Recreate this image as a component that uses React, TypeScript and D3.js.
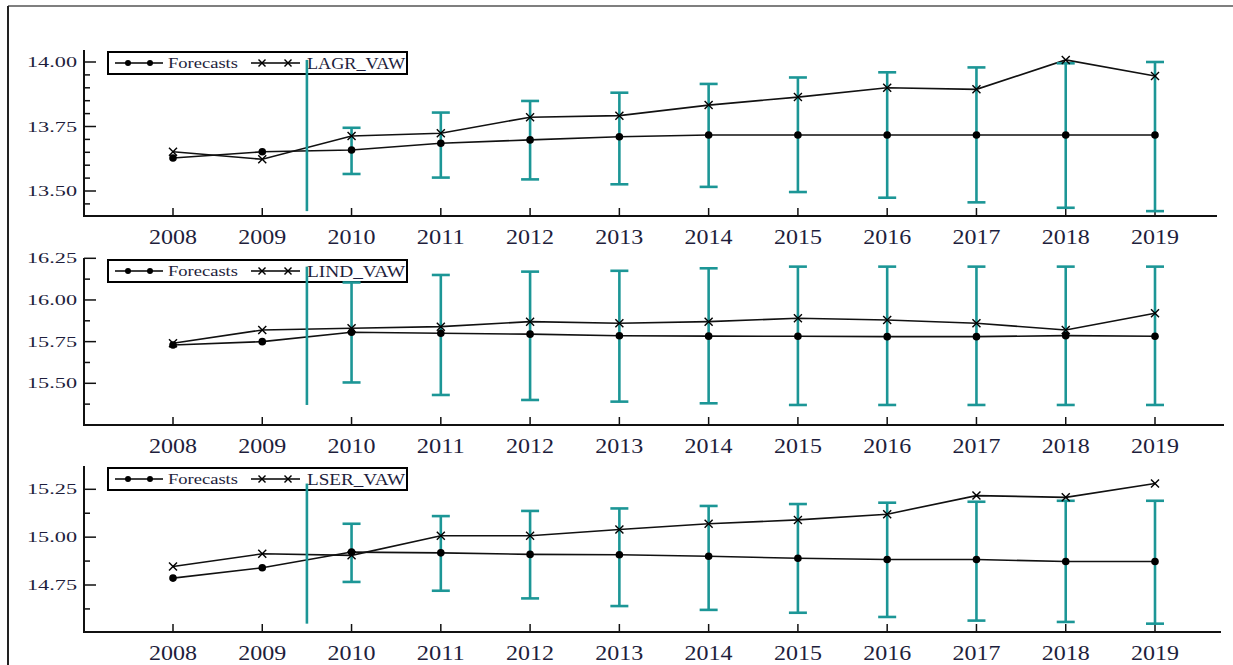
import { line, scaleLinear } from "d3";

const years = [2008, 2009, 2010, 2011, 2012, 2013, 2014, 2015, 2016, 2017, 2018, 2019];
const barYears = [2010, 2011, 2012, 2013, 2014, 2015, 2016, 2017, 2018, 2019];

// LAGR_VAW panel
const agrForecast = [13.628, 13.652, 13.659, 13.685, 13.698, 13.71, 13.717, 13.717, 13.717, 13.717, 13.717, 13.717];
const agrActual = [13.652, 13.623, 13.713, 13.724, 13.786, 13.792, 13.833, 13.864, 13.9, 13.894, 14.008, 13.946];
const agrUpper = [13.745, 13.804, 13.849, 13.881, 13.915, 13.94, 13.96, 13.979, 13.995, 14.0];
const agrLower = [13.566, 13.552, 13.545, 13.526, 13.516, 13.496, 13.474, 13.456, 13.435, 13.422];
const agrTicks = [13.5, 13.75, 14.0];

// LIND_VAW panel
const indForecast = [15.73, 15.75, 15.806, 15.8, 15.795, 15.785, 15.783, 15.782, 15.78, 15.78, 15.786, 15.782];
const indActual = [15.74, 15.82, 15.83, 15.84, 15.87, 15.86, 15.87, 15.89, 15.88, 15.86, 15.82, 15.92];
const indUpper = [16.105, 16.15, 16.17, 16.175, 16.19, 16.2, 16.2, 16.2, 16.2, 16.2];
const indLower = [15.505, 15.43, 15.4, 15.39, 15.38, 15.37, 15.37, 15.37, 15.37, 15.37];
const indTicks = [15.5, 15.75, 16.0, 16.25];

// LSER_VAW panel
const serForecast = [14.786, 14.84, 14.922, 14.918, 14.91, 14.908, 14.9, 14.89, 14.883, 14.883, 14.873, 14.873];
const serActual = [14.847, 14.913, 14.905, 15.007, 15.007, 15.04, 15.07, 15.09, 15.12, 15.217, 15.208, 15.28];
const serUpper = [15.07, 15.11, 15.137, 15.15, 15.163, 15.173, 15.18, 15.185, 15.19, 15.19];
const serLower = [14.766, 14.72, 14.68, 14.64, 14.62, 14.605, 14.583, 14.564, 14.557, 14.548];
const serTicks = [14.75, 15.0, 15.25];

const TEAL = "#1c9696";
const TEXT = "#1e1e3c";
const FONT = "'Liberation Serif', 'Times New Roman', serif";

const x = scaleLinear().domain([2008, 2019]).range([173, 1155]);
const AXIS_LEFT = 84;

type Panel = {
  name: string;
  forecast: number[];
  actual: number[];
  upper: number[];
  lower: number[];
  ticks: number[];
  minorStep: number;
  // two labelled ticks and where they sit, plus axis extent
  d0: number; r0: number; d1: number; r1: number;
  top: number; bottom: number; right: number;
};

const panels: Panel[] = [
  { name: "LAGR_VAW", forecast: agrForecast, actual: agrActual, upper: agrUpper, lower: agrLower,
    ticks: agrTicks, minorStep: 0.05, d0: 13.5, r0: 191, d1: 14.0, r1: 62, top: 50, bottom: 216, right: 1217 },
  { name: "LIND_VAW", forecast: indForecast, actual: indActual, upper: indUpper, lower: indLower,
    ticks: indTicks, minorStep: 0.125, d0: 15.5, r0: 383.3, d1: 16.25, r1: 258.3, top: 258, bottom: 425, right: 1224 },
  { name: "LSER_VAW", forecast: serForecast, actual: serActual, upper: serUpper, lower: serLower,
    ticks: serTicks, minorStep: 0.125, d0: 14.75, r0: 585, d1: 15.25, r1: 489.3, top: 466, bottom: 632, right: 1221 },
];

function Cross({ cx, cy, s = 4 }: { cx: number; cy: number; s?: number }) {
  return (
    <g stroke="#000" strokeWidth={1.4}>
      <line x1={cx - s} y1={cy - s} x2={cx + s} y2={cy + s} />
      <line x1={cx - s} y1={cy + s} x2={cx + s} y2={cy - s} />
    </g>
  );
}

function PanelChart({ p }: { p: Panel }) {
  const y = scaleLinear().domain([p.d0, p.d1]).range([p.r0, p.r1]);
  const lo = y.invert(p.bottom);
  const hi = y.invert(p.top);
  const minors: number[] = [];
  const start = Math.ceil((lo + 1e-6) / p.minorStep) * p.minorStep;
  for (let v = start; v <= hi + 1e-6; v += p.minorStep) {
    if (!p.ticks.some((t) => Math.abs(t - v) < 1e-6)) minors.push(v);
  }
  const path = line<number>()
    .x((_, i) => x(years[i]))
    .y((d) => y(d));
  const sepTop = Math.max(...p.upper, ...p.actual);
  const sepBottom = Math.min(...p.lower);
  const sepX = x(2009.5);
  const lx = 108;
  const ly = p.top + 2;

  return (
    <g>
      {/* axes */}
      <path d={`M${AXIS_LEFT},${p.top}V${p.bottom}H${p.right}`} fill="none" stroke="#111" strokeWidth={2} />
      {p.ticks.map((t) => (
        <g key={t}>
          <line x1={AXIS_LEFT} x2={AXIS_LEFT + 12} y1={y(t)} y2={y(t)} stroke="#111" strokeWidth={1.5} />
          <text x={77} y={y(t) + 5} textAnchor="end" fontFamily={FONT} fontSize={15} fill={TEXT}
            textLength={50} lengthAdjust="spacingAndGlyphs">{t.toFixed(2)}</text>
        </g>
      ))}
      {minors.map((m) => (
        <line key={m} x1={AXIS_LEFT} x2={AXIS_LEFT + 6} y1={y(m)} y2={y(m)} stroke="#111" strokeWidth={1.5} />
      ))}
      {years.map((yr) => (
        <g key={yr}>
          <line x1={x(yr)} x2={x(yr)} y1={p.bottom} y2={p.bottom - 8} stroke="#111" strokeWidth={1.5} />
          <text x={x(yr)} y={p.bottom + 28} textAnchor="middle" fontFamily={FONT} fontSize={21} fill={TEXT}
            textLength={48} lengthAdjust="spacingAndGlyphs">{yr}</text>
        </g>
      ))}

      {/* legend */}
      <rect x={lx} y={ly} width={299} height={22} fill="#fff" stroke="#000" strokeWidth={2} />
      <line x1={115} x2={163} y1={ly + 11} y2={ly + 11} stroke="#000" strokeWidth={1.5} />
      <circle cx={128} cy={ly + 11} r={3} fill="#000" />
      <circle cx={150} cy={ly + 11} r={3} fill="#000" />
      <text x={168} y={ly + 16} fontFamily={FONT} fontSize={14} fill={TEXT}
        textLength={70} lengthAdjust="spacingAndGlyphs">Forecasts</text>
      <line x1={251} x2={300} y1={ly + 11} y2={ly + 11} stroke="#000" strokeWidth={1.5} />
      <Cross cx={262} cy={ly + 11} s={3.5} />
      <Cross cx={288} cy={ly + 11} s={3.5} />
      <text x={307} y={ly + 17} fontFamily={FONT} fontSize={16} fill={TEXT}
        textLength={98} lengthAdjust="spacingAndGlyphs">{p.name}</text>

      {/* series lines */}
      <path d={path(p.forecast) || undefined} fill="none" stroke="#111" strokeWidth={1.6} />
      <path d={path(p.actual) || undefined} fill="none" stroke="#111" strokeWidth={1.6} />

      {/* forecast intervals */}
      {barYears.map((yr, i) => (
        <g key={yr} stroke={TEAL} strokeWidth={2.6}>
          <line x1={x(yr)} x2={x(yr)} y1={y(p.upper[i])} y2={y(p.lower[i])} />
          <line x1={x(yr) - 9} x2={x(yr) + 9} y1={y(p.upper[i])} y2={y(p.upper[i])} />
          <line x1={x(yr) - 9} x2={x(yr) + 9} y1={y(p.lower[i])} y2={y(p.lower[i])} />
        </g>
      ))}

      {/* markers */}
      {p.forecast.map((v, i) => (
        <circle key={"f" + i} cx={x(years[i])} cy={y(v)} r={3.8} fill="#000" />
      ))}
      {p.actual.map((v, i) => (
        <Cross key={"a" + i} cx={x(years[i])} cy={y(v)} />
      ))}

      {/* forecast start */}
      <line x1={sepX} x2={sepX} y1={y(sepTop)} y2={y(sepBottom)} stroke={TEAL} strokeWidth={2.6} />
    </g>
  );
}

export default function App() {
  return (
    <svg width={1233} height={665} style={{ position: "absolute", left: 0, top: 0, background: "#fff" }}>
      <rect width={1233} height={665} fill="#fff" />
      <line x1={8} x2={1233} y1={6} y2={6} stroke="#555" strokeWidth={1.5} />
      <line x1={8} x2={8} y1={6} y2={665} stroke="#222" strokeWidth={2} />
      {panels.map((p) => (
        <PanelChart key={p.name} p={p} />
      ))}
    </svg>
  );
}
